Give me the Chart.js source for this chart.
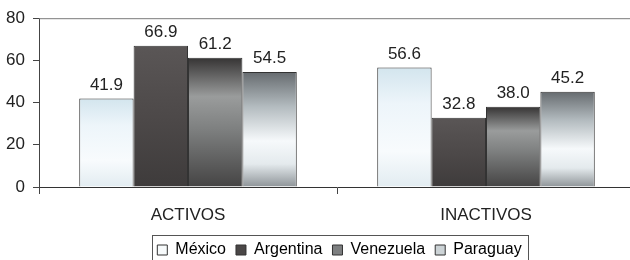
<!DOCTYPE html>
<html>
<head>
<meta charset="utf-8">
<script src="https://cdn.jsdelivr.net/npm/chart.js@4"></script>
<style>
  html, body { margin: 0; padding: 0; background: #fff; overflow: hidden; }
  #wrap { width: 640px; height: 260px; }
</style>
</head>
<body>
<div id="wrap"><canvas id="chart"></canvas></div>
<script>
// data
const categories = ["ACTIVOS", "INACTIVOS"];
const countries = ["México", "Argentina", "Venezuela", "Paraguay"];
const mexico = [41.9, 56.6];
const argentina = [66.9, 32.8];
const venezuela = [61.2, 38.0];
const paraguay = [54.5, 45.2];
const yTicks = [0, 20, 40, 60, 80];

const font = "'Liberation Sans', Arial, sans-serif";
const textColor = "#222";
const fontSize = 17;
const legendSize = 16;
const legendPad = 10;

// vertical gradient per bar, from its top down to the zero line
const barGradient = (stops) => (ctx) => {
  const chart = ctx.chart;
  if (ctx.type !== "data" || !chart.scales.y) return stops[1][1];
  const top = chart.scales.y.getPixelForValue(ctx.raw);
  const base = chart.scales.y.getPixelForValue(0);
  const g = chart.ctx.createLinearGradient(0, top, 0, base);
  stops.forEach(([o, c]) => g.addColorStop(o, c));
  return g;
};

const fills = [
  [[0, "#d3e5ee"], [0.3, "#edf5fa"], [0.7, "#f8fbfd"], [1, "#e2ecf1"]],
  [[0, "#5a5656"], [0.5, "#4d4949"], [1, "#3e3b3b"]],
  [[0, "#363434"], [0.3, "#9a9c9c"], [0.55, "#7e8080"], [1, "#454444"]],
  [[0, "#666b6f"], [0.3, "#b3bbbf"], [0.6, "#f6f9fb"], [0.8, "#e4eaed"], [1, "#8e9498"]],
];
const legendFills = ["#f7fafb", "#4a4747", "#7d7f80", "#ccd3d6"];

const series = [mexico, argentina, venezuela, paraguay];

const valueLabels = {
  id: "valueLabels",
  afterDatasetsDraw(chart) {
    const c = chart.ctx;
    c.save();
    c.font = fontSize + "px " + font;
    c.fillStyle = textColor;
    c.textAlign = "center";
    c.textBaseline = "alphabetic";
    chart.data.datasets.forEach((ds, i) => {
      chart.getDatasetMeta(i).data.forEach((bar, j) => {
        c.fillText(ds.data[j].toFixed(1), bar.x, bar.y - 9);
      });
    });
    c.restore();
  },
};

const frame = {
  id: "frame",
  afterLayout(chart) {
    // move legend to where it sits in the picture
    const lg = chart.legend;
    lg.top += 8;
    lg.bottom += 8;
    lg.left += 22;
    lg.right += 22;
  },
  beforeDatasetsDraw(chart) {
    const { ctx: c, chartArea: a } = chart;
    c.save();
    c.strokeStyle = "#7a7a7a";
    c.lineWidth = 1;
    c.beginPath();
    c.moveTo(a.left, a.top + 0.5);
    c.lineTo(a.right, a.top + 0.5);
    c.stroke();
    c.restore();
  },
  afterDraw(chart) {
    // box round the legend row
    const lg = chart.legend;
    const lw = lg.lineWidths[0];
    const x0 = (lg.left + legendPad + lg.right - lw) / 2 - 5;
    const x1 = x0 + lw - legendPad + 12;
    const yc = lg.top + legendPad + legendSize / 2;
    const c = chart.ctx;
    c.save();
    c.strokeStyle = "#555";
    c.lineWidth = 1;
    c.strokeRect(Math.round(x0) + 0.5, Math.round(yc - 15) + 0.5, Math.round(x1 - x0), 26);
    c.restore();
  },
};

new Chart(document.getElementById("chart"), {
  type: "bar",
  data: {
    labels: categories,
    datasets: series.map((data, i) => ({
      label: countries[i],
      data: data,
      backgroundColor: barGradient(fills[i]),
      borderColor: "#333",
      borderWidth: 1,
      categoryPercentage: 0.73,
      barPercentage: 1,
    })),
  },
  options: {
    responsive: true,
    maintainAspectRatio: false,
    animation: false,
    layout: { padding: { top: 16, right: 5, bottom: 0, left: 0 } },
    plugins: {
      tooltip: { enabled: false },
      legend: {
        position: "bottom",
        labels: {
          color: textColor,
          font: { family: font, size: legendSize },
          boxWidth: 10,
          boxHeight: 10,
          padding: legendPad,
          generateLabels: (chart) =>
            chart.data.datasets.map((ds, i) => ({
              text: ds.label,
              fillStyle: legendFills[i],
              strokeStyle: "#333",
              lineWidth: 1,
              datasetIndex: i,
            })),
        },
      },
    },
    scales: {
      x: {
        grid: { drawOnChartArea: false, tickLength: 7, color: "#444" },
        border: { color: "#333", width: 1 },
        ticks: { color: textColor, font: { family: font, size: fontSize }, padding: 11 },
        afterFit: (scale) => { scale.height = 37; },
      },
      y: {
        min: 0,
        max: 80,
        afterBuildTicks: (scale) => { scale.ticks = yTicks.map((v) => ({ value: v })); },
        grid: { drawOnChartArea: false, tickLength: 6, color: "#444" },
        border: { color: "#444", width: 1 },
        ticks: { color: textColor, font: { family: font, size: fontSize }, padding: 8 },
        afterFit: (scale) => { scale.width = 39; },
      },
    },
  },
  plugins: [valueLabels, frame],
});
</script>
</body>
</html>
